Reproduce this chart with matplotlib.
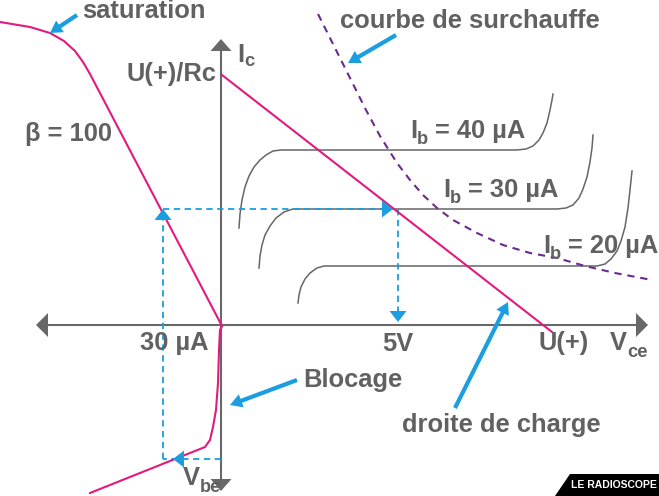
import matplotlib
matplotlib.use('Agg')
import matplotlib.pyplot as plt
from matplotlib import font_manager as fm

# ---------------- data (diagram coordinates, y grows downward) ----------------
h_axis_x = [36, 648]          # horizontal axis (Vce / Ib) tips
h_axis_y = 325
v_axis_x = 221
v_axis_y = [39, 491]          # vertical axis (Ic / Vbe) tips

load_x = [222, 552]
load_y = [75, 332]

beta_x = [0, 30, 50, 64, 75, 83, 90, 222]
beta_y = [22, 27, 33, 41, 51, 62, 74, 326]

vbe_x = [222, 220, 219, 218, 216, 213, 210, 205, 200, 90]
vbe_y = [326, 330, 350, 383, 410, 427, 440, 447, 449, 493]

ib40_x = [239, 240, 242, 245, 249, 254, 260, 266, 273, 281, 517, 526, 533, 539, 543, 547, 550, 552, 553]
ib40_y = [228, 214, 200, 187, 176, 167, 160, 155, 151, 150, 150, 149, 146, 140, 133, 123, 110, 100, 94]
ib30_x = [259, 260, 262, 265, 270, 276, 284, 293, 557, 566, 573, 579, 583, 587, 590, 592, 593]
ib30_y = [268, 256, 245, 235, 226, 218, 212, 209, 209, 208, 205, 198, 189, 177, 162, 148, 135]
ib20_x = [298, 299, 301, 305, 310, 317, 324, 332, 597, 605, 611, 617, 621, 625, 628, 630, 632]
ib20_y = [303, 295, 287, 279, 273, 268, 266, 266, 266, 264, 259, 251, 241, 227, 208, 190, 171]

heat_x = [318, 334, 350, 366, 380, 397, 410, 423, 437, 453, 477, 503, 530, 557, 585, 615, 652]
heat_y = [14, 46, 78, 110, 136, 163, 180, 195, 208, 220, 233, 245, 253, 258, 266, 273, 280]

ib_point_x = 163      # 30 uA on the Ib axis
op_ic_y = 209         # operating-point current level
op_vce_x = 398        # 5 V
vbe_level_y = 459     # Vbe level

# annotation arrows: (start, tip)
ann_arrows = [((77, 15), (50, 33)),
              ((396, 35), (348, 63)),
              ((297, 380), (230, 405)),
              ((455, 408), (508, 302))]

GRAY_TXT = '#616161'
AXIS = '#686868'
PINK = '#e3197d'
BLUE = '#1a9ee0'
PURPLE = '#6a2a8e'
CURVE = '#666666'

fig = plt.figure(figsize=(6.59, 4.96), dpi=100)
ax = fig.add_axes([0, 0, 1, 1])
ax.set_xlim(0, 659)
ax.set_ylim(496, 0)
ax.axis('off')

# ---- axes with arrowheads ----
ax.plot([h_axis_x[0] + 10, h_axis_x[1] - 10], [h_axis_y, h_axis_y], color=AXIS, lw=1.5, zorder=2)
ax.plot([v_axis_x, v_axis_x], [v_axis_y[0] + 10, v_axis_y[1] - 10], color=AXIS, lw=1.5, zorder=2)
ah = dict(width=0.0, head_width=24, head_length=12, length_includes_head=True,
          color=AXIS, lw=0, zorder=3)
ax.arrow(h_axis_x[0] + 12, h_axis_y, -12, 0, **ah)
ax.arrow(h_axis_x[1] - 12, h_axis_y, 12, 0, **ah)
ah['head_width'] = 21
ax.arrow(v_axis_x, v_axis_y[0] + 13, 0, -13, **ah)
ax.arrow(v_axis_x, v_axis_y[1] - 11, 0, 11, **ah)

# ---- output characteristics ----
for xs, ys in [(ib40_x, ib40_y), (ib30_x, ib30_y), (ib20_x, ib20_y)]:
    ax.plot(xs, ys, color=CURVE, lw=1.1, solid_joinstyle='round', zorder=2)

# ---- overheat curve ----
ax.plot(heat_x, heat_y, color=PURPLE, lw=1.5, ls=(0, (3.5, 2.8)), zorder=2)

# ---- pink curves ----
ax.plot(load_x, load_y, color=PINK, lw=1.5, zorder=4)
ax.plot(beta_x, beta_y, color=PINK, lw=1.5, zorder=4)
ax.plot(vbe_x, vbe_y, color=PINK, lw=1.5, zorder=4)

# ---- blue dashed construction lines ----
dash = dict(color=BLUE, lw=1.3, ls=(0, (3.5, 2.5)), zorder=3)
ax.plot([ib_point_x, op_vce_x - 8], [op_ic_y, op_ic_y], **dash)
ax.plot([ib_point_x, ib_point_x], [vbe_level_y, op_ic_y + 8], **dash)
ax.plot([op_vce_x, op_vce_x], [op_ic_y, h_axis_y - 8], **dash)
ax.plot([v_axis_x, ib_point_x], [vbe_level_y, vbe_level_y], **dash)
hd = dict(width=0.0, head_width=17, head_length=11, length_includes_head=True,
          color=BLUE, lw=0, zorder=5)
ax.arrow(ib_point_x, op_ic_y + 11, 0, -11, **hd)
ax.arrow(op_vce_x - 16, op_ic_y, 11, 0, **hd)
ax.arrow(op_vce_x, h_axis_y - 14, 0, 11, **hd)
ax.arrow(ib_point_x + 21, vbe_level_y, -11, 0, **hd)

# ---- blue annotation arrows ----
for (x0, y0), (x1, y1) in ann_arrows:
    ax.arrow(x0, y0, x1 - x0, y1 - y0, width=4.2, head_width=14, head_length=12,
             length_includes_head=True, color=BLUE, lw=0, zorder=6)

# ---- texts ----
FAM = ['Liberation Sans', 'DejaVu Sans']
big = dict(family=FAM, fontweight='bold', color=GRAY_TXT, fontsize=18.4, va='baseline', zorder=7)
sub = dict(family=FAM, fontweight='bold', color=GRAY_TXT, fontsize=13.2, va='baseline', zorder=7)

ax.text(82, 18, 'saturation', **big)
ax.text(340, 28, 'courbe de surchauffe', **big)
ax.text(25, 141, 'β = 100', **big)
ax.text(216, 81, 'U(+)/Rc', ha='right', **big)
ax.text(237, 62, 'I', **big)
ax.text(244, 66, 'c', **sub)

for (xi, yb, lab) in [(410, 138, '= 40 µA'), (443, 197, '= 30 µA'), (543, 253, '= 20 µA')]:
    ax.text(xi, yb, 'I', **big)
    ax.text(xi + 7, yb + 6, 'b', **sub)
    ax.text(xi + 25, yb, lab, **big)

ax.text(140, 350, '30 µA', **big)
ax.text(382, 351, '5V', **big)
ax.text(538, 350, 'U(+)', **big)
ax.text(610, 350, 'V', **big)
ax.text(627, 357, 'ce', **sub)
ax.text(303, 387, 'Blocage', **big)
ax.text(402, 432, 'droite de charge', **big)
ax.text(183, 485, 'V', **big)
ax.text(200, 492, 'be', **sub)

# ---- logo banner ----
ax.fill([555, 570, 659, 659], [496, 474, 474, 496], color='black', lw=0, zorder=8)
names = {f.name for f in fm.fontManager.ttflist}
if 'Liberation Sans Narrow' in names:
    lfam, lsize = ['Liberation Sans Narrow', 'Liberation Sans'], 9.0
else:
    lfam, lsize = ['Liberation Sans', 'DejaVu Sans'], 7.5
ax.text(614, 485, 'LE RADIOSCOPE', family=lfam, fontsize=lsize, fontweight='bold',
        color='white', ha='center', va='center', zorder=9)

fig.savefig('out.png', dpi=100)
